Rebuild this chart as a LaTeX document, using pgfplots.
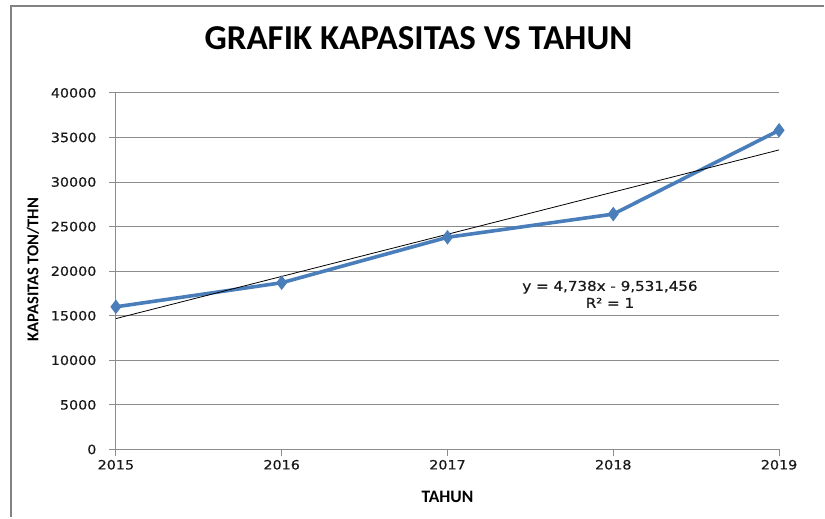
\documentclass[border=0pt]{standalone}
\usepackage{pgfplots}
\pgfplotsset{compat=1.18}
\usepackage{fontspec}
\setmainfont{Carlito}
\newfontfamily\tickfont[FakeStretch=1.12, FakeBold=0.6]{DejaVu Sans}
\definecolor{blueline}{RGB}{74,126,187}
\definecolor{gridgray}{RGB}{140,140,140}
\definecolor{framegray}{RGB}{130,130,130}
\begin{document}
\begin{tikzpicture}
\begin{axis}[
  scale only axis, width=664pt, height=357pt,
  xmin=2015, xmax=2019, ymin=0, ymax=40000,
  xtick={2015,2016,2017,2018,2019},
  ytick={0,5000,10000,15000,20000,25000,30000,35000,40000},
  scaled y ticks=false,
  /pgf/number format/1000 sep={},
  /pgf/number format/assume math mode=true,
  ticklabel style={font=\tickfont\fontsize{12.8}{15}\selectfont, text=black!90},
  yticklabel style={xshift=-9pt},
  ymajorgrids,
  major grid style={gridgray, line width=1pt},
  axis x line=bottom, axis y line=left,
  axis line style={-, gridgray, line width=1pt},
  tick align=outside, major tick length=7pt,
  tick style={gridgray, line width=1pt},
  clip=false,
]
\addplot[blueline, line width=3.6pt, mark=diamond*, mark size=6.5pt, mark options={fill=blueline, line width=1pt}]
  coordinates {(2015,16000)(2016,18700)(2017,23800)(2018,26400)(2019,35800)};
\addplot[black, line width=0.8pt] coordinates {(2015,14680)(2019,33600)};
\node[font=\tickfont\fontsize{13.5}{17}\selectfont, text=black!90, align=center] at (axis cs:2017.98,17400) {y = 4,738x - 9,531,456\\R² = 1};
\node[font=\bfseries\fontsize{35}{38}\selectfont] at (axis cs:2016.825,46162) {GRAFIK KAPASITAS VS TAHUN};
\node[font=\bfseries\fontsize{16.5}{18}\selectfont, rotate=90] at (axis cs:2014.50,20168) {KAPASITAS TON/THN};
\node[font=\bfseries\fontsize{17.5}{19}\selectfont] at (axis cs:2017.0,-5300) {TAHUN};
\coordinate (bl) at (axis cs:2014.301,-7619);
\coordinate (tr) at (axis cs:2019.271,50420);
\coordinate (fl) at (axis cs:2014.367,49748);
\end{axis}
\draw[framegray, line width=2pt] (fl |- bl) -- (fl) -- (fl -| tr);
\path[use as bounding box] (bl) rectangle (tr);
\end{tikzpicture}
\end{document}
